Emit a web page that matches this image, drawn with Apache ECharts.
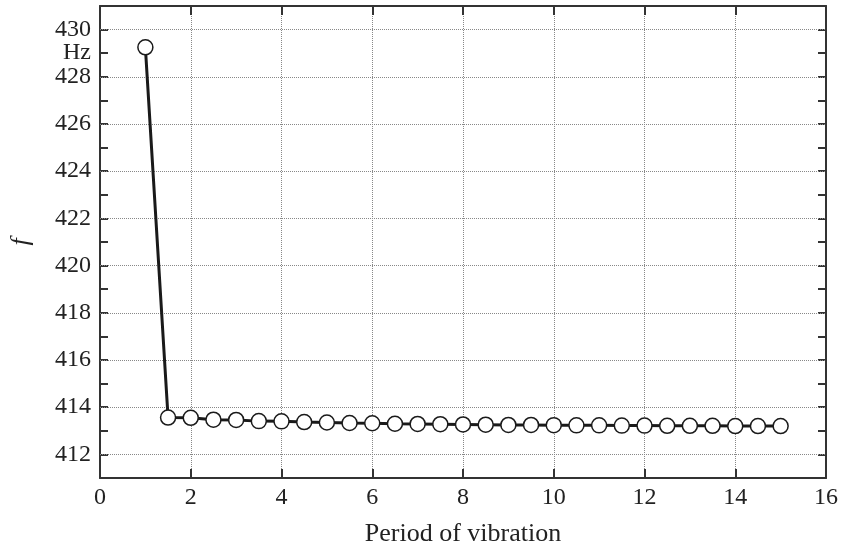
<!DOCTYPE html>
<html>
<head>
<meta charset="utf-8">
<script src="https://cdn.jsdelivr.net/npm/echarts@6/dist/echarts.min.js"></script>
<style>
  html, body { margin: 0; padding: 0; background: #fff; }
  #chart { width: 841px; height: 548px; }
</style>
</head>
<body>
<div id="chart"></div>
<script>
// period of vibration (x) and frequency f in Hz (y)
const periods = [1, 1.5, 2, 2.5, 3, 3.5, 4, 4.5, 5, 5.5, 6, 6.5, 7, 7.5, 8,
  8.5, 9, 9.5, 10, 10.5, 11, 11.5, 12, 12.5, 13, 13.5, 14, 14.5, 15];
const freq = [429.25, 413.56, 413.55, 413.47, 413.46, 413.41, 413.40, 413.37,
  413.35, 413.33, 413.32, 413.30, 413.29, 413.28, 413.27, 413.26, 413.25,
  413.25, 413.24, 413.23, 413.23, 413.22, 413.22, 413.21, 413.21, 413.21,
  413.20, 413.20, 413.20];
// labelled y values (dotted grid lines) and the unit label position
const yGridValues = [412, 414, 416, 418, 420, 422, 424, 426, 428, 430];
const unitValue = 429;
const unitLabel = "Hz";

const font = "Liberation Serif";
const axisColor = "#333";

const chart = echarts.init(document.getElementById("chart"));

const yLabel = v => {
  if (v === unitValue) return unitLabel;
  return yGridValues.includes(v) ? String(v) : "";
};

const option = {
  animation: false,
  backgroundColor: "#fff",
  grid: { left: 100, right: 15, top: 6, bottom: 70, containLabel: false, outerBoundsMode: "none" },
  xAxis: [
    {
      type: "value",
      min: 0,
      max: 16,
      interval: 2,
      name: "Period of vibration",
      nameLocation: "middle",
      nameGap: 43,
      nameTextStyle: { fontFamily: font, fontSize: 26, color: "#222" },
      axisLine: { show: true, onZero: false, lineStyle: { color: axisColor, width: 2 } },
      axisTick: { inside: true, length: 9, lineStyle: { color: axisColor, width: 2 } },
      axisLabel: { fontFamily: font, fontSize: 24, color: "#222", margin: 8 },
      splitLine: { show: true, lineStyle: { color: "#888", type: "dotted", width: 1 } }
    },
    {
      type: "value",
      position: "top",
      min: 0,
      max: 16,
      interval: 2,
      axisLine: { show: true, onZero: false, lineStyle: { color: axisColor, width: 2 } },
      axisTick: { inside: true, length: 9, lineStyle: { color: axisColor, width: 2 } },
      axisLabel: { show: false },
      splitLine: { show: false }
    }
  ],
  yAxis: [
    {
      type: "value",
      min: 411,
      max: 431,
      interval: 1,
      name: "f",
      nameLocation: "middle",
      nameGap: 66,
      nameTextStyle: { fontFamily: font, fontSize: 26, fontStyle: "italic", color: "#222" },
      axisLine: { show: true, onZero: false, lineStyle: { color: axisColor, width: 2 } },
      axisTick: { inside: true, length: 8, lineStyle: { color: axisColor, width: 2 } },
      axisLabel: {
        fontFamily: font, fontSize: 24, color: "#222", margin: 9,
        showMinLabel: false, showMaxLabel: false,
        formatter: yLabel
      },
      splitLine: { show: false }
    },
    {
      type: "value",
      position: "right",
      min: 411,
      max: 431,
      interval: 1,
      axisLine: { show: true, onZero: false, lineStyle: { color: axisColor, width: 2 } },
      axisTick: { inside: true, length: 8, lineStyle: { color: axisColor, width: 2 } },
      axisLabel: { show: false },
      splitLine: { show: false }
    }
  ],
  series: [
    {
      type: "line",
      xAxisIndex: 0,
      yAxisIndex: 0,
      data: periods.map((p, i) => [p, freq[i]]),
      symbol: "circle",
      symbolSize: 15,
      z: 5,
      lineStyle: { color: "#1a1a1a", width: 3 },
      itemStyle: { color: "#fff", borderColor: "#1a1a1a", borderWidth: 1.5 },
      markLine: {
        silent: true,
        symbol: "none",
        label: { show: false },
        lineStyle: { color: "#888", type: "dotted", width: 1 },
        z: 1,
        data: yGridValues.map(v => ({ yAxis: v }))
      }
    }
  ]
};

chart.setOption(option);
</script>
</body>
</html>
